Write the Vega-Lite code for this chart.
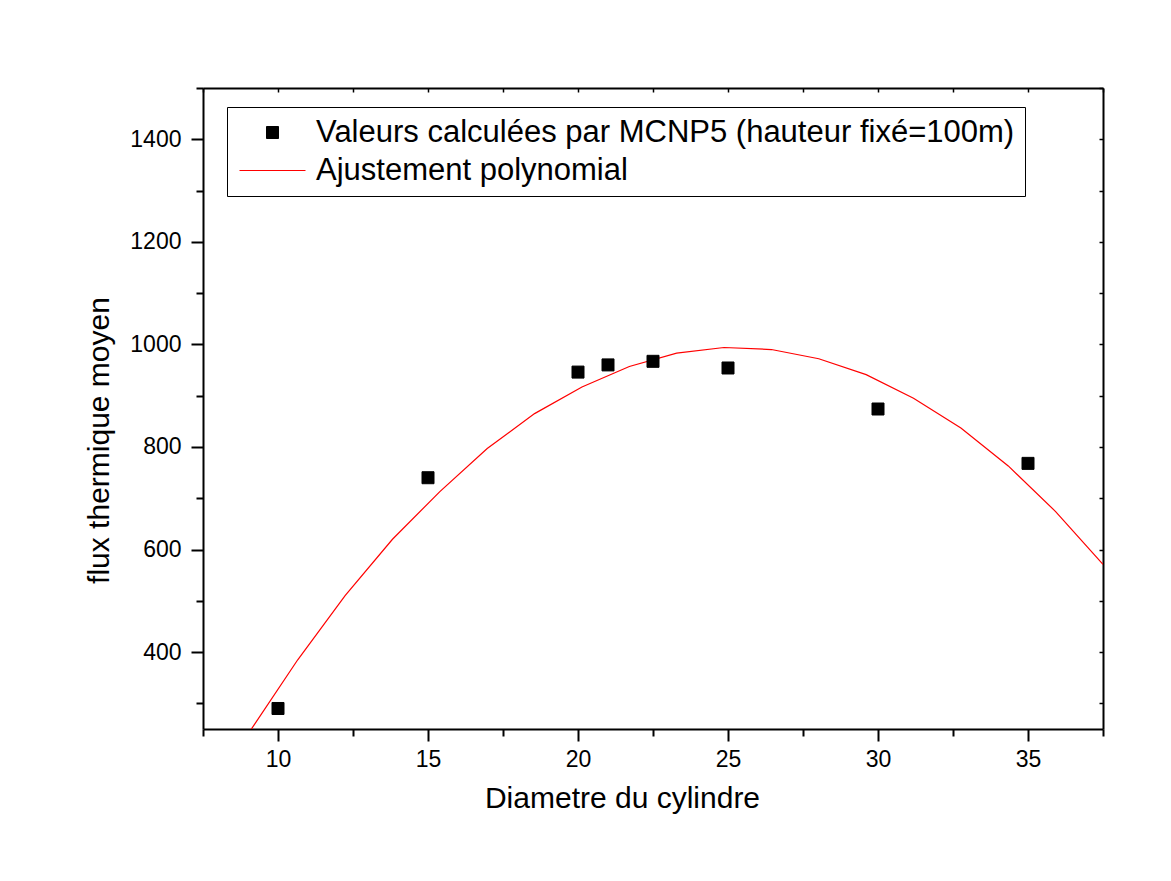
{
  "$schema": "https://vega.github.io/schema/vega-lite/v6.json",
  "width": 900,
  "height": 641,
  "autosize": {"type": "none"},
  "padding": {"left": 203, "top": 88, "right": 68, "bottom": 152},
  "background": "white",
  "config": {"view": {"stroke": null}, "font": "Liberation Sans"},
  "resolve": {"axis": {"x": "independent", "y": "independent"}},
  "layer": [
    {
      "data": {"values": [
        {"d": 9.079, "f": 247},
        {"d": 10.658, "f": 385},
        {"d": 12.237, "f": 510},
        {"d": 13.816, "f": 620},
        {"d": 15.395, "f": 713},
        {"d": 16.974, "f": 797},
        {"d": 18.553, "f": 865},
        {"d": 20.132, "f": 917},
        {"d": 21.711, "f": 957},
        {"d": 23.289, "f": 983},
        {"d": 24.868, "f": 994},
        {"d": 26.447, "f": 990},
        {"d": 28.026, "f": 972},
        {"d": 29.605, "f": 941},
        {"d": 31.184, "f": 895},
        {"d": 32.763, "f": 837},
        {"d": 34.342, "f": 763},
        {"d": 35.921, "f": 674},
        {"d": 37.5, "f": 571}
      ]},
      "mark": {"type": "line", "color": "#ff0000", "strokeWidth": 1.2, "clip": true},
      "encoding": {
        "x": {
          "field": "d", "type": "quantitative",
          "scale": {"domain": [7.5, 37.5], "nice": false, "zero": false},
          "axis": {
            "orient": "bottom",
            "values": [7.5, 10, 12.5, 15, 17.5, 20, 22.5, 25, 27.5, 30, 32.5, 35, 37.5],
            "tickSize": {"condition": {"test": "datum.value % 5 === 0", "value": 12}, "value": 7},
            "tickWidth": 2, "tickColor": "black",
            "domainWidth": 2, "domainColor": "black",
            "labelExpr": "datum.value % 5 === 0 ? datum.label : ''",
            "labelFont": "Liberation Sans", "labelFontSize": 23, "labelColor": "black",
            "labelPadding": 7, "labelFlush": false, "labelOverlap": false,
            "grid": false,
            "title": "Diametre du cylindre",
            "titleFont": "Liberation Sans", "titleFontSize": 30, "titleFontWeight": "normal",
            "titleColor": "black", "titlePadding": 12, "titleX": 419
          }
        },
        "y": {
          "field": "f", "type": "quantitative",
          "scale": {"domain": [250, 1500], "nice": false, "zero": false},
          "axis": {
            "orient": "left",
            "values": [300, 400, 500, 600, 700, 800, 900, 1000, 1100, 1200, 1300, 1400, 1500],
            "tickSize": {"condition": {"test": "datum.value % 200 === 0", "value": 12}, "value": 7},
            "tickWidth": 2, "tickColor": "black",
            "domainWidth": 2, "domainColor": "black",
            "labelExpr": "datum.value % 200 === 0 ? datum.label : ''",
            "labelFont": "Liberation Sans", "labelFontSize": 23, "labelColor": "black",
            "labelPadding": 10, "labelFlush": false, "labelOverlap": false,
            "format": "d",
            "grid": false,
            "title": "flux thermique moyen",
            "titleFont": "Liberation Sans", "titleFontSize": 30, "titleFontWeight": "normal",
            "titleColor": "black", "titlePadding": 15, "titleY": 352
          }
        }
      }
    },
    {
      "data": {"values": [
        {"d": 10, "f": 290, "serie": "Valeurs calculées par MCNP5 (hauteur fixé=100m)"},
        {"d": 15, "f": 740, "serie": "Valeurs calculées par MCNP5 (hauteur fixé=100m)"},
        {"d": 20, "f": 946, "serie": "Valeurs calculées par MCNP5 (hauteur fixé=100m)"},
        {"d": 21, "f": 960, "serie": "Valeurs calculées par MCNP5 (hauteur fixé=100m)"},
        {"d": 22.5, "f": 967, "serie": "Valeurs calculées par MCNP5 (hauteur fixé=100m)"},
        {"d": 25, "f": 954, "serie": "Valeurs calculées par MCNP5 (hauteur fixé=100m)"},
        {"d": 30, "f": 874, "serie": "Valeurs calculées par MCNP5 (hauteur fixé=100m)"},
        {"d": 35, "f": 768, "serie": "Valeurs calculées par MCNP5 (hauteur fixé=100m)"}
      ]},
      "mark": {"type": "point", "filled": true, "size": 144, "strokeWidth": 1, "opacity": 1},
      "encoding": {
        "x": {
          "field": "d", "type": "quantitative",
          "axis": {
            "orient": "top",
            "values": [7.5, 10, 12.5, 15, 17.5, 20, 22.5, 25, 27.5, 30, 32.5, 35, 37.5],
            "tickSize": -4, "tickWidth": 1.5, "tickColor": "black",
            "domainWidth": 2, "domainColor": "black",
            "labels": false, "grid": false, "title": null
          }
        },
        "y": {
          "field": "f", "type": "quantitative",
          "axis": {
            "orient": "right",
            "values": [300, 400, 500, 600, 700, 800, 900, 1000, 1100, 1200, 1300, 1400, 1500],
            "tickSize": -4, "tickWidth": 1.5, "tickColor": "black",
            "domainWidth": 2, "domainColor": "black",
            "labels": false, "grid": false, "title": null
          }
        },
        "color": {
          "field": "serie", "type": "nominal",
          "scale": {"domain": ["Valeurs calculées par MCNP5 (hauteur fixé=100m)", "Ajustement polynomial"], "range": ["black", "#ff0000"]},
          "legend": {
            "orient": "none", "legendX": 24, "legendY": 19, "title": null,
            "strokeColor": "black", "fillColor": "white", "padding": 10,
            "labelFont": "Liberation Sans", "labelFontSize": 31, "labelColor": "black", "labelLimit": 2000,
            "symbolSize": 144, "symbolStrokeWidth": 1, "symbolOffset": 20, "labelOffset": 28, "rowPadding": 6
          }
        },
        "stroke": {
          "field": "serie", "type": "nominal",
          "scale": {"domain": ["Valeurs calculées par MCNP5 (hauteur fixé=100m)", "Ajustement polynomial"], "range": ["black", "#ff0000"]},
          "legend": {
            "orient": "none", "legendX": 24, "legendY": 19, "title": null,
            "strokeColor": "black", "fillColor": "white", "padding": 10,
            "labelFont": "Liberation Sans", "labelFontSize": 31, "labelColor": "black", "labelLimit": 2000,
            "symbolSize": 144, "symbolStrokeWidth": 1, "symbolOffset": 20, "labelOffset": 28, "rowPadding": 6
          }
        },
        "shape": {
          "field": "serie", "type": "nominal",
          "scale": {"domain": ["Valeurs calculées par MCNP5 (hauteur fixé=100m)", "Ajustement polynomial"], "range": ["square", "M-5.5,0H5.5"]},
          "legend": {
            "orient": "none", "legendX": 24, "legendY": 19, "title": null,
            "strokeColor": "black", "fillColor": "white", "padding": 10,
            "labelFont": "Liberation Sans", "labelFontSize": 31, "labelColor": "black", "labelLimit": 2000,
            "symbolSize": 144, "symbolStrokeWidth": 1, "symbolOffset": 20, "labelOffset": 28, "rowPadding": 6
          }
        }
      }
    }
  ]
}
